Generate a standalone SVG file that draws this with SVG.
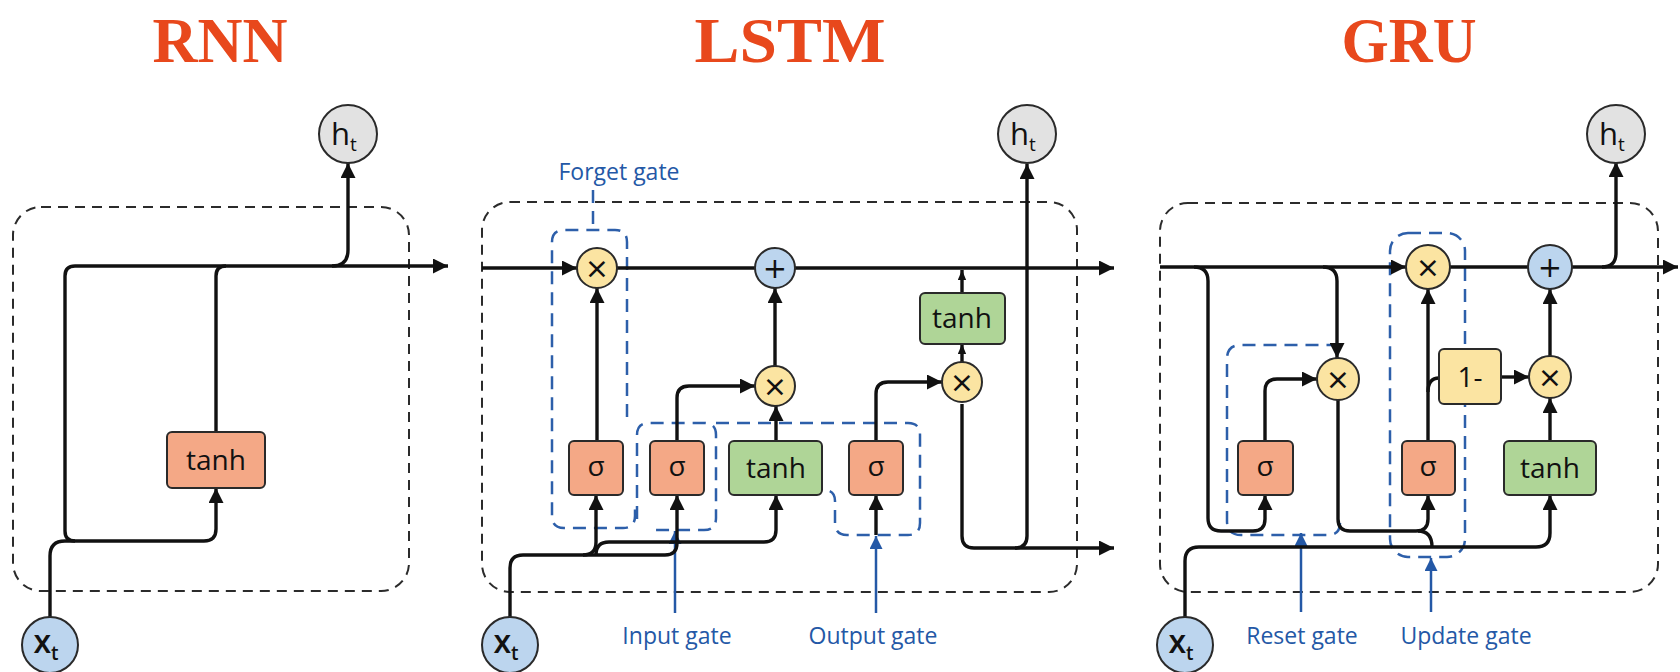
<svg xmlns="http://www.w3.org/2000/svg" width="1680" height="672" viewBox="0 0 1680 672">
<defs>
<marker id="ah" viewBox="0 0 14 14" refX="14" refY="7" markerWidth="15" markerHeight="15" orient="auto" markerUnits="userSpaceOnUse"><path d="M0,0 L14,7 L0,14 z" fill="#111"/></marker>
<marker id="ahs" viewBox="0 0 12 10" refX="12" refY="5" markerWidth="10" markerHeight="9" orient="auto" markerUnits="userSpaceOnUse"><path d="M0,0 L12,5 L0,10 z" fill="#111"/></marker>
<marker id="ahb" viewBox="0 0 14 14" refX="14" refY="7" markerWidth="14" markerHeight="13" orient="auto" markerUnits="userSpaceOnUse"><path d="M0,0 L14,7 L0,14 z" fill="#2458A6"/></marker>
<style>
.title{font-family:"Liberation Serif",serif;font-weight:bold;font-size:64px;fill:#E8481C;text-anchor:middle}
.cell{fill:none;stroke:#2b2b2b;stroke-width:2;stroke-dasharray:10 7}
.wire{fill:none;stroke:#111;stroke-width:3.4;stroke-linejoin:round}
.arr{marker-end:url(#ah)}
.sarr{marker-end:url(#ahs)}
.gate{fill:none;stroke:#2D5FAA;stroke-width:2.5;stroke-dasharray:13 8}
.barr{fill:none;stroke:#2458A6;stroke-width:2.5;marker-end:url(#ahb)}
.lbl{font-family:"Open Sans","Noto Sans",sans-serif;font-weight:500;font-size:23px;fill:#2458A6;text-anchor:middle}
.sig{fill:#F4A886;stroke:#2a2a2a;stroke-width:2}
.grn{fill:#AFD597;stroke:#2a2a2a;stroke-width:2}
.yel{fill:#FBE4A2;stroke:#2a2a2a;stroke-width:2}
.blu{fill:#BCD5EE;stroke:#2a2a2a;stroke-width:2}
.gry{fill:#E2E2E2;stroke:#2a2a2a;stroke-width:2}
.nt{font-family:"Open Sans","Noto Sans",sans-serif;font-weight:500;font-size:28px;fill:#111;text-anchor:middle}
.hx{font-family:"Open Sans","Noto Sans",sans-serif;font-weight:500;font-size:31px;fill:#111;text-anchor:middle}
.op{font-family:"DejaVu Sans",sans-serif;font-size:29px;fill:#111;text-anchor:middle}
.sub{font-size:19px}
</style>
</defs>
<rect width="1680" height="672" fill="#ffffff"/>

<text class="title" x="220" y="62" textLength="135" lengthAdjust="spacingAndGlyphs">RNN</text>
<text class="title" x="790" y="62" textLength="191" lengthAdjust="spacingAndGlyphs">LSTM</text>
<text class="title" x="1409" y="62" textLength="135" lengthAdjust="spacingAndGlyphs">GRU</text>

<g id="frames">
<rect class="cell" x="13" y="207" width="396" height="384" rx="28"/>
<rect class="cell" x="482" y="202" width="595" height="390" rx="28"/>
<rect class="cell" x="1160" y="203" width="498" height="389" rx="28"/>
</g>

<g id="gates">
<path class="gate" d="M627,417 V242 Q627,230 615,230 H564 Q552,230 552,242 V516 Q552,528 564,528 H623 Q635,528 635,516 V503"/>
<path class="gate" d="M593,190 V230"/>
<path class="gate" d="M637,519 V435 Q637,423 649,423 H704 Q716,423 716,435 V518 Q716,530 704,530 H649"/>
<path class="gate" d="M716,423 H908 Q920,423 920,435 V523 Q920,535 908,535 H847 Q835,535 835,523 V501 Q835,490 824,490"/>
<path class="gate" d="M1340,523 Q1340,535 1328,535 H1241 Q1227,535 1227,521 V359 Q1227,345 1241,345 H1336"/>
<rect class="gate" x="1390" y="233" width="75" height="324" rx="18"/>
<path class="barr" d="M675,613 V531"/>
<path class="barr" d="M876,613 V536"/>
<path class="barr" d="M1301,612 V533"/>
<path class="barr" d="M1431,612 V558"/>
<text class="lbl" x="619" y="180">Forget gate</text>
<text class="lbl" x="677" y="644">Input gate</text>
<text class="lbl" x="873" y="644">Output gate</text>
<text class="lbl" x="1302" y="644">Reset gate</text>
<text class="lbl" x="1466" y="644">Update gate</text>
</g>

<g id="connectors">
<!-- RNN -->
<path class="wire arr" d="M75,541 Q65,541 65,531 V276 Q65,266 75,266 H448"/>
<path class="wire" d="M216,432 V276 Q216,266 226,266"/>
<path class="wire arr" d="M332,266 Q348,266 348,250 V163"/>
<path class="wire arr" d="M50,617 V556 Q50,541 65,541 H204 Q216,541 216,529 V488"/>
<!-- LSTM -->
<path class="wire arr" d="M482,268 H577"/>
<path class="wire" d="M617,268 H755"/>
<path class="wire arr" d="M795,268 H1114"/>
<path class="wire arr" d="M597,441 V288"/>
<path class="wire arr" d="M677,441 V398 Q677,386 689,386 H755"/>
<path class="wire arr" d="M776,441 V406"/>
<path class="wire arr" d="M775,366 V288"/>
<path class="wire arr" d="M876,441 V394 Q876,382 888,382 H942"/>
<path class="wire arr" d="M962,404 V536 Q962,548 974,548 H1114"/>
<path class="wire arr" d="M1015,548 Q1027,548 1027,536 V164"/>
<path class="wire sarr" d="M962,362 V344"/>
<path class="wire sarr" d="M962,293 V270"/>
<path class="wire arr" d="M510,617 V568 Q510,555 523,555 H665 Q677,555 677,543 V495"/>
<path class="wire arr" d="M583,555 Q596,555 596,542 V495"/>
<path class="wire arr" d="M596,555 Q596,542 609,542 H764 Q776,542 776,530 V495"/>
<path class="wire arr" d="M876,535 V495"/>
<!-- GRU -->
<path class="wire arr" d="M1160,267 H1406"/>
<path class="wire" d="M1450,267 H1528"/>
<path class="wire arr" d="M1572,267 H1678"/>
<path class="wire arr" d="M1602,267 Q1616,267 1616,253 V162"/>
<path class="wire arr" d="M1194,267 Q1208,267 1208,281 V518 Q1208,531 1221,531 H1253 Q1265,531 1265,519 V495"/>
<path class="wire arr" d="M1323,267 Q1337,267 1337,281 V358"/>
<path class="wire arr" d="M1265,441 V391 Q1265,379 1277,379 H1317"/>
<path class="wire arr" d="M1338,400 V519 Q1338,531 1350,531 H1416 Q1428,531 1428,519 V495"/>
<path class="wire" d="M1418,531 Q1432,531 1432,547"/>
<path class="wire arr" d="M1185,617 V561 Q1185,547 1199,547 H1536 Q1550,547 1550,533 V495"/>
<path class="wire arr" d="M1428,441 V289"/>
<path class="wire" d="M1428,392 Q1428,378 1439,378"/>
<path class="wire arr" d="M1501,377 H1529"/>
<path class="wire arr" d="M1550,441 V398"/>
<path class="wire arr" d="M1550,356 V289"/>
</g>

<g id="rnn-tanh"><rect class="sig" x="167" y="432" width="98" height="56" rx="5"/><text class="nt" x="216" y="470">tanh</text></g>
<g id="rnn-h"><circle class="gry" cx="348" cy="134" r="29"/><text class="hx" x="344" y="145">h<tspan class="sub" dy="6">t</tspan></text></g>
<g id="rnn-x"><circle class="blu" cx="50" cy="645" r="28"/><text class="hx" x="46" y="653" style="font-size:32px;font-weight:600">x<tspan class="sub" dy="7">t</tspan></text></g>

<g id="lstm-fx"><circle class="yel" cx="597" cy="268" r="20"/><text class="op" x="597" y="278">×</text></g>
<g id="lstm-plus"><circle class="blu" cx="775" cy="268" r="20"/><text class="op" x="775" y="278">+</text></g>
<g id="lstm-ix"><circle class="yel" cx="775" cy="386" r="20"/><text class="op" x="775" y="396">×</text></g>
<g id="lstm-ox"><circle class="yel" cx="962" cy="382" r="20"/><text class="op" x="962" y="392">×</text></g>
<g id="lstm-fs"><rect class="sig" x="569" y="441" width="54" height="54" rx="5"/><text class="nt" x="596" y="476">σ</text></g>
<g id="lstm-is"><rect class="sig" x="650" y="441" width="54" height="54" rx="5"/><text class="nt" x="677" y="476">σ</text></g>
<g id="lstm-tanh"><rect class="grn" x="729" y="441" width="93" height="54" rx="5"/><text class="nt" x="776" y="478">tanh</text></g>
<g id="lstm-os"><rect class="sig" x="849" y="441" width="54" height="54" rx="5"/><text class="nt" x="876" y="476">σ</text></g>
<g id="lstm-ctanh"><rect class="grn" x="920" y="293" width="85" height="51" rx="5"/><text class="nt" x="962" y="328">tanh</text></g>
<g id="lstm-h"><circle class="gry" cx="1027" cy="134" r="29"/><text class="hx" x="1023" y="145">h<tspan class="sub" dy="6">t</tspan></text></g>
<g id="lstm-x"><circle class="blu" cx="510" cy="645" r="28"/><text class="hx" x="506" y="653" style="font-size:32px;font-weight:600">x<tspan class="sub" dy="7">t</tspan></text></g>

<g id="gru-ux"><circle class="yel" cx="1428" cy="267" r="22"/><text class="op" x="1428" y="277">×</text></g>
<g id="gru-plus"><circle class="blu" cx="1550" cy="267" r="22"/><text class="op" x="1550" y="277">+</text></g>
<g id="gru-rx"><circle class="yel" cx="1338" cy="379" r="21"/><text class="op" x="1338" y="389">×</text></g>
<g id="gru-mx"><circle class="yel" cx="1550" cy="377" r="21"/><text class="op" x="1550" y="387">×</text></g>
<g id="gru-one"><rect class="yel" x="1439" y="349" width="62" height="55" rx="5"/><text class="nt" x="1470" y="387">1-</text></g>
<g id="gru-rs"><rect class="sig" x="1238" y="441" width="55" height="54" rx="5"/><text class="nt" x="1265" y="476">σ</text></g>
<g id="gru-us"><rect class="sig" x="1402" y="441" width="53" height="54" rx="5"/><text class="nt" x="1428" y="476">σ</text></g>
<g id="gru-tanh"><rect class="grn" x="1504" y="441" width="92" height="54" rx="5"/><text class="nt" x="1550" y="478">tanh</text></g>
<g id="gru-h"><circle class="gry" cx="1616" cy="134" r="29"/><text class="hx" x="1612" y="145">h<tspan class="sub" dy="6">t</tspan></text></g>
<g id="gru-x"><circle class="blu" cx="1185" cy="645" r="28"/><text class="hx" x="1181" y="653" style="font-size:32px;font-weight:600">x<tspan class="sub" dy="7">t</tspan></text></g>
</svg>
